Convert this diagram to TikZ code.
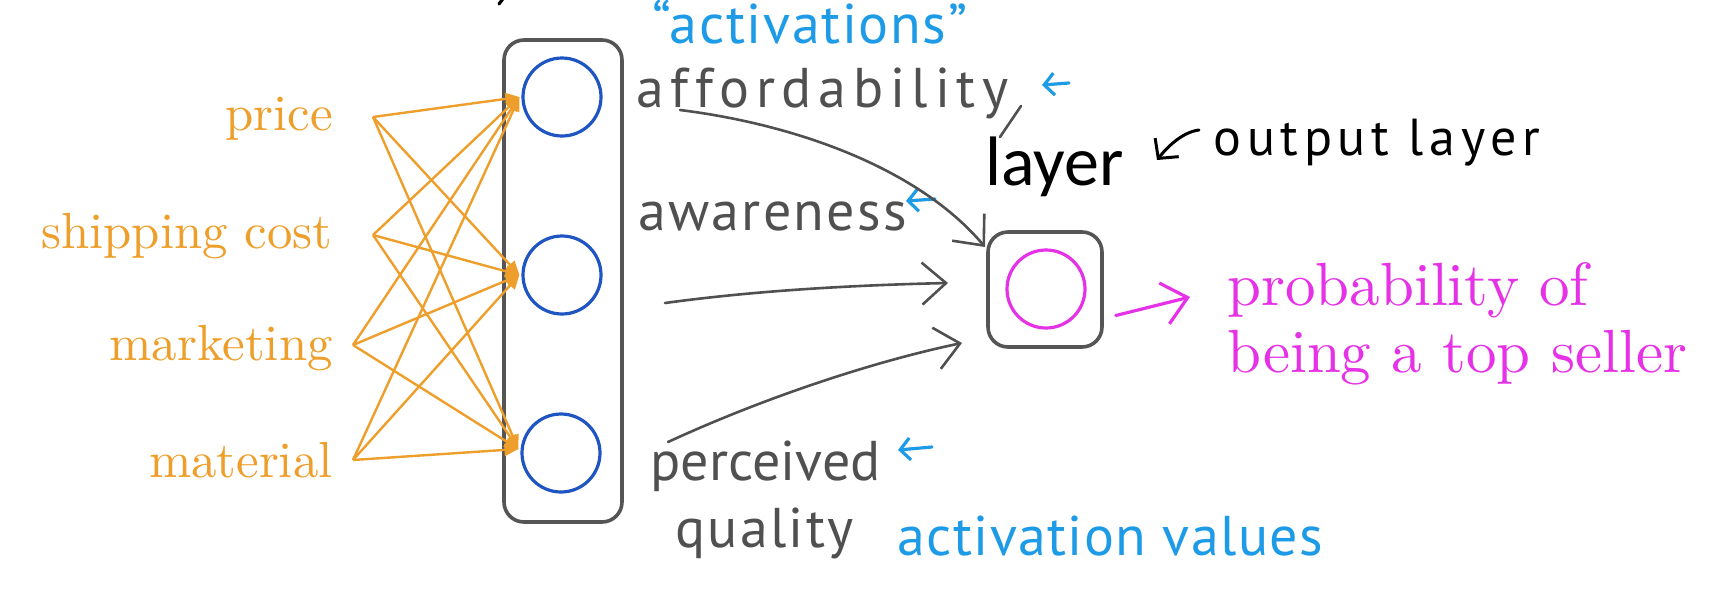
\documentclass[tikz,border=0pt]{standalone}
\usepackage{fontspec}
\usetikzlibrary{arrows.meta}
\newfontfamily\handfont{PT Sans}
\newfontfamily\typefont{Carlito}
\newfontfamily\serifx{lmroman10-regular.otf}
\definecolor{inorange}{RGB}{238,158,42}
\definecolor{hblue}{RGB}{30,85,195}
\definecolor{skyblue}{RGB}{30,155,230}
\definecolor{magent}{RGB}{230,50,230}
\definecolor{penc}{RGB}{80,80,80}
\definecolor{boxgray}{RGB}{85,85,85}
\tikzset{
 inlabel/.style={text=inorange, font=\serifx\fontsize{25.4}{30}\selectfont, inner sep=0, anchor=base east},
 problabel/.style={text=magent, font=\serifx\fontsize{30.5}{34}\selectfont, inner sep=0, anchor=base west},
 hid/.style={circle, draw=hblue, line width=1.6pt, minimum size=39pt, inner sep=0},
 outn/.style={circle, draw=magent, line width=1.6pt, minimum size=39pt, inner sep=0},
 layerbox/.style={draw=boxgray, line width=1.8pt, rounded corners=10pt, inner sep=0},
 feed/.style={draw=inorange, line width=1.2pt, -{Triangle[length=7pt,width=6pt]}},
 penarrow/.style={draw=penc, line width=1.3pt, line cap=round, -{Straight Barb[length=12pt,width=21pt]}},
 hand/.style={text=penc, inner sep=0, anchor=base west},
 bluehand/.style={text=skyblue, inner sep=0, anchor=base west},
 bluearrow/.style={draw=skyblue, line width=1.6pt, line cap=round, {Straight Barb[length=5pt,width=11pt]}-},
}
\begin{document}
\begin{tikzpicture}[x=0.5pt,y=-0.5pt]
\useasboundingbox (0,0) rectangle (1724,590);
% cut-off stroke at top edge
\draw[black, line width=1.6pt, line cap=round] (505,-4) -- (499,4);

% input labels
\node[inlabel] (price) at (333,130) {price};
\node[inlabel] (ship) at (333,248) {shipping cost};
\node[inlabel] (mark) at (333,360) {marketing};
\node[inlabel] (mat) at (333,477) {material};
\coordinate (f1) at (373,117);
\coordinate (f2) at (373,235);
\coordinate (f3) at (353,345);
\coordinate (f4) at (353,460);

% hidden layer
\node[layerbox, minimum width=59pt, minimum height=241pt] (hbox) at (563,281) {};
\node[hid] (h1) at (562,97) {};
\node[hid] (h2) at (562,275) {};
\node[hid] (h3) at (561,453) {};

\foreach \f in {f1,f2,f3,f4}{
  \draw[feed] (\f) -- ([xshift=-1pt]h1.west);
  \draw[feed] (\f) -- ([xshift=-1pt]h2.west);
  \draw[feed] (\f) -- ([xshift=-1pt,yshift=2pt]h3.west);
}

% output layer
\node[layerbox, minimum width=57pt, minimum height=57.5pt] (obox) at (1045,289.5) {};
\node[outn] (o) at (1046,289) {};

% handwritten labels
\node[bluehand, font=\handfont\fontsize{28}{30}\selectfont\addfontfeatures{LetterSpace=3}] (acts) at (652,43) {“activations”};
\node[hand, font=\handfont\fontsize{28}{30}\selectfont\addfontfeatures{LetterSpace=12}] (aff) at (636,107) {affordability};
\node[hand, font=\handfont\fontsize{28}{30}\selectfont\addfontfeatures{LetterSpace=4}] (awa) at (638,230) {awareness};
\node[hand, font=\handfont\fontsize{28}{30}\selectfont] (perc) at (650,480) {perceived};
\node[hand, font=\handfont\fontsize{28}{30}\selectfont\addfontfeatures{LetterSpace=4}] (qual) at (675,547) {quality};
\node[bluehand, font=\handfont\fontsize{28}{30}\selectfont\addfontfeatures{LetterSpace=2.5}] (actv) at (897,555) {activation values};
\node[inner sep=0, anchor=base west, font=\typefont\fontsize{35}{37}\selectfont] (layer) at (985,185) {layer};
\node[inner sep=0, anchor=base west, font=\handfont\fontsize{26}{30}\selectfont\addfontfeatures{LetterSpace=11}] (outl) at (1213,155) {output layer};
\node[problabel] (prob1) at (1227,305) {probability of};
\node[problabel] (prob2) at (1227,372) {being a top seller};

% descender stroke of affordability
\draw[penc, line width=1.3pt, line cap=round] (1021,106) -- (1000,137);

% small blue arrows
\coordinate (b1) at (1042,85); \coordinate (b1t) at (1069,83);
\coordinate (b2) at (906,201); \coordinate (b2t) at (935,199);
\coordinate (b3) at (898,450); \coordinate (b3t) at (932,447);
\draw[bluearrow] (b1) -- (b1t);
\draw[bluearrow] (b2) -- (b2t);
\draw[bluearrow] (b3) -- (b3t);

% output layer pointer
\coordinate (ol) at (1199,130);
\coordinate (olt) at (1157,160);
\draw[black, line width=1.5pt, line cap=round, -{Straight Barb[length=7pt,width=15pt]}] (ol) .. controls (1183,132) and (1168,146) .. (olt);

% activations into output
\coordinate (a1) at (680,110);
\coordinate (a2) at (665,303);
\coordinate (a3) at (668,442);
\coordinate (t1) at (985,247);
\coordinate (t2) at (948,283);
\coordinate (t3) at (962,343);
\draw[penarrow] (a1) .. controls (800,125) and (920,170) .. (t1);
\draw[penarrow] (a2) .. controls (760,290) and (860,285) .. (t2);
\draw[penarrow] (a3) .. controls (770,395) and (880,360) .. (t3);

% output arrow
\coordinate (pt) at (1190,297);
\draw[draw=magent, line width=1.6pt, line cap=round, -{Straight Barb[length=12pt,width=21pt]}] ([xshift=6pt,yshift=-13pt]obox.east) -- (pt);
\end{tikzpicture}
\end{document}
